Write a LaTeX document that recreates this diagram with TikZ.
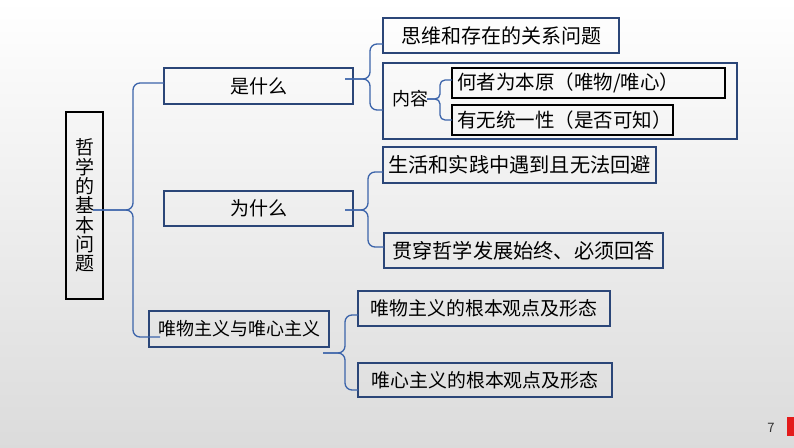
\documentclass[tikz,border=0pt]{standalone}
\usepackage{fontspec}
\setmainfont{Noto Sans CJK SC}
\definecolor{boxblue}{HTML}{2B4678}
\definecolor{lineblue}{HTML}{3C64AA}
\definecolor{pgred}{HTML}{E31B1B}
\tikzset{
  bx/.style={draw=boxblue, line width=1.6pt, inner sep=0pt},
  kbx/.style={draw=black, line width=1.7pt, inner sep=0pt},
  br/.style={draw=lineblue, line width=1.3pt, rounded corners=7pt},
  fsz/.style={font=\fontsize{#1}{#1}\selectfont}
}
\begin{document}
\begin{tikzpicture}[x=1pt,y=-1pt]
\useasboundingbox (0,0) rectangle (794,447);
\shade[top color=white, bottom color=black!14] (0,0) rectangle (794,447);

% main node
\node[kbx, minimum width=37pt, minimum height=187pt, align=center,
      font=\fontsize{19}{19.3}\selectfont] (main) at (84.5,205.5)
      {哲\\学\\的\\基\\本\\问\\题};

% level 1
\node[bx, minimum width=189pt, minimum height=36pt, fsz=19] (shi) at (258.5,86) {是什么};
\node[bx, minimum width=189pt, minimum height=35pt, fsz=19] (wei) at (258.5,208.5) {为什么};
\node[bx, minimum width=180pt, minimum height=36pt, fsz=18] (wu) at (239,329) {唯物主义与唯心主义};

% level 2
\node[bx, minimum width=236pt, minimum height=35pt, fsz=20] (siwei) at (501,35.5) {思维和存在的关系问题};
\node[bx, minimum width=354pt, minimum height=76pt] (nr) at (560,101) {};
\node[fsz=18, inner sep=0pt] (nrt) at (410,99) {内容};
\node[kbx, minimum height=30pt, text width=263pt, inner xsep=5pt, align=left, fsz=19.5] (hezhe) at (588.5,83) {何者为本原（唯物/唯心）};
\node[kbx, minimum height=30pt, text width=211pt, inner xsep=5pt, align=left, fsz=19.5] (youwu) at (562.5,120) {有无统一性（是否可知）};
\node[bx, minimum width=273pt, minimum height=36pt, fsz=20.2] (sh) at (519.5,165) {生活和实践中遇到且无法回避};
\node[bx, minimum width=279pt, minimum height=35pt, fsz=20.2] (gc) at (523.5,250.5) {贯穿哲学发展始终、必须回答};
\node[bx, minimum width=252pt, minimum height=35pt, fsz=18.9] (wz) at (484,308.5) {唯物主义的根本观点及形态};
\node[bx, minimum width=254pt, minimum height=34pt, fsz=18.9] (xz) at (485,380) {唯心主义的根本观点及形态};

% brace coordinates
\coordinate (m-tip) at (93,210);   \coordinate (m-j) at (133,210);
\coordinate (m-a) at (164,83);     \coordinate (m-b) at (160,337);
\coordinate (s-tip) at (345,79);   \coordinate (s-j) at (370,79);
\coordinate (s-a) at (383,44);     \coordinate (s-b) at (383,110);
\coordinate (n-tip) at (427,99);   \coordinate (n-j) at (440,99);
\coordinate (n-a) at (452,80);     \coordinate (n-b) at (452,120);
\coordinate (w-tip) at (345,210);  \coordinate (w-j) at (368,210);
\coordinate (w-a) at (383,172);    \coordinate (w-b) at (384,247);
\coordinate (u-tip) at (323,353);  \coordinate (u-j) at (345,353);
\coordinate (u-a) at (358,315);    \coordinate (u-b) at (358,390);

\draw[br] (m-a) -| (m-j) -- (m-tip);
\draw[br] (m-b) -| (m-j) -- (m-tip);
\draw[br] (s-a) -| (s-j) -- (s-tip);
\draw[br] (s-b) -| (s-j) -- (s-tip);
\draw[br, rounded corners=5pt] (n-a) -| (n-j) -- (n-tip);
\draw[br, rounded corners=5pt] (n-b) -| (n-j) -- (n-tip);
\draw[br] (w-a) -| (w-j) -- (w-tip);
\draw[br] (w-b) -| (w-j) -- (w-tip);
\draw[br] (u-a) -| (u-j) -- (u-tip);
\draw[br] (u-b) -| (u-j) -- (u-tip);

% page number and red mark
\node[fsz=13, text=black!80, inner sep=0pt] (pg) at (771,428) {7};
\fill[pgred] (787,417) rectangle (794,436);
\end{tikzpicture}
\end{document}
